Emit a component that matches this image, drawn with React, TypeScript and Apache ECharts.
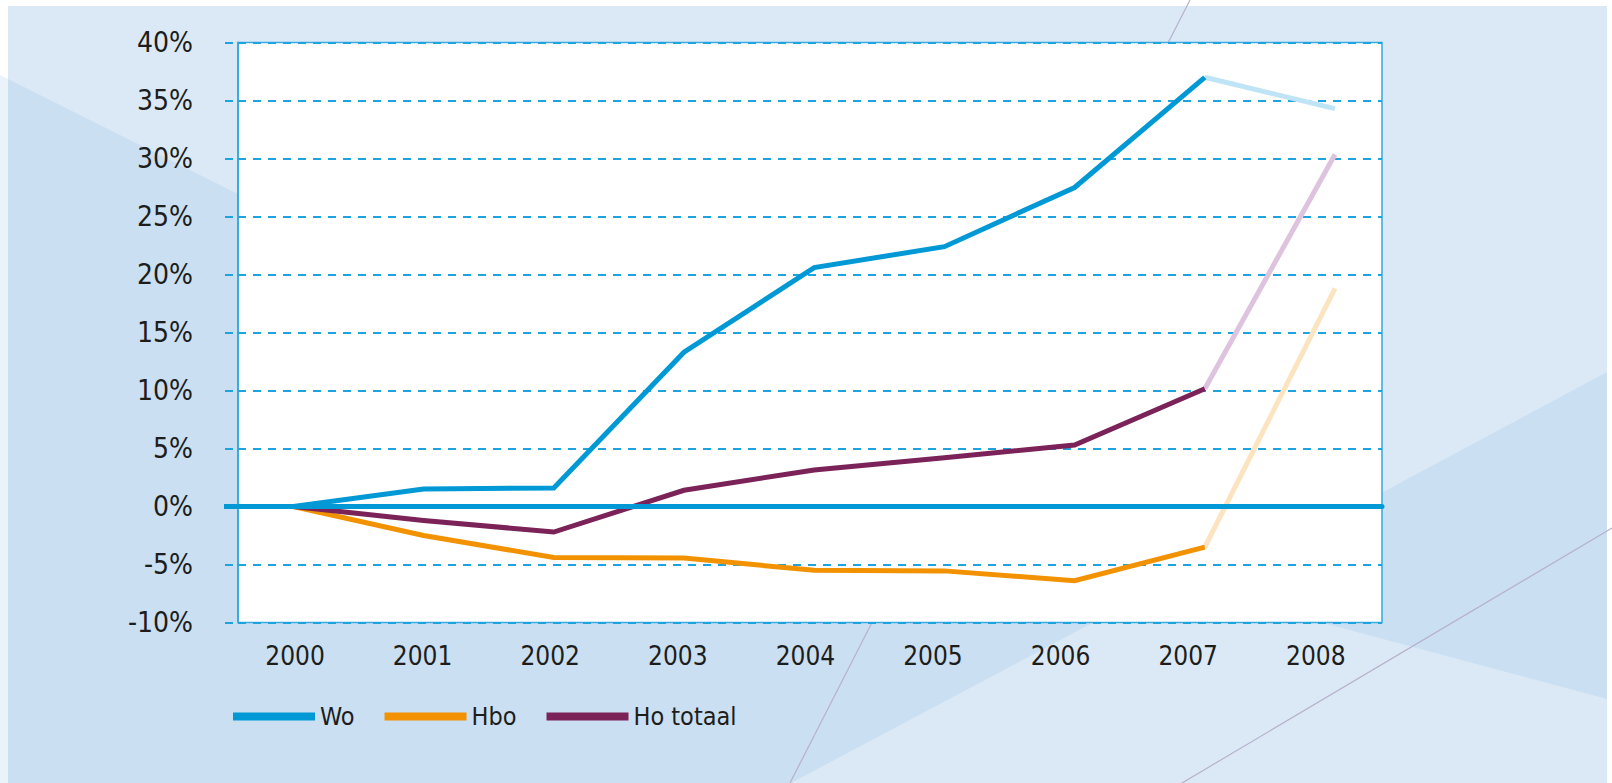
import React, { useEffect, useRef } from "react";
import * as echarts from "echarts";

const years = ["2000", "2001", "2002", "2003", "2004", "2005", "2006", "2007", "2008"];
const wo = [0, 1.5, 1.6, 13.3, 20.6, 22.4, 27.5, 37.0, 34.3];
const hbo = [0, -2.5, -4.4, -4.45, -5.5, -5.55, -6.4, -3.5, 18.8];
const hoTotaal = [0, -1.2, -2.2, 1.4, 3.15, 4.2, 5.3, 10.15, 30.35];
const seriesNames = ["Wo", "Hbo", "Ho totaal"];
const mainColors = ["#0099d5", "#f39200", "#7b2359"];
const fadedColors = ["#bfe4f6", "#fde4c0", "#ddc3de"];
const yMin = -10;
const yMax = 40;
const yStep = 5;

const FONT = '"Liberation Sans Narrow", "DejaVu Sans Condensed", "Liberation Sans", sans-serif';

export default function App() {
  const ref = useRef<HTMLDivElement>(null);
  useEffect(() => {
    if (!ref.current) return;
    const chart = echarts.init(ref.current, null, { renderer: "svg" });
    const all = [wo, hbo, hoTotaal];
    const last = years.length - 1;
    const series: any[] = [];
    all.forEach((vals, k) => {
      series.push({
        name: seriesNames[k],
        type: "line",
        xAxisIndex: 0,
        yAxisIndex: 0,
        data: vals.slice(0, last).map((v, i) => [i, v]),
        showSymbol: false,
        symbol: "none",
        lineStyle: { color: mainColors[k], width: 5, join: "miter" },
        itemStyle: { color: mainColors[k] },
        z: 3,
      });
      series.push({
        name: seriesNames[k] + " " + years[last],
        type: "line",
        xAxisIndex: 0,
        yAxisIndex: 0,
        data: [[last - 1, vals[last - 1]], [last, vals[last]]],
        showSymbol: false,
        symbol: "none",
        lineStyle: { color: fadedColors[k], width: 5 },
        itemStyle: { color: fadedColors[k] },
        z: 2,
      });
    });

    chart.setOption({
      animation: false,
      backgroundColor: "#ffffff",
      graphic: [
        { type: "rect", z: -10, silent: true, shape: { x: 8, y: 6, width: 1599, height: 777 }, style: { fill: "#dbe9f6" } },
        { type: "polygon", z: -9, silent: true, shape: { points: [[0, 75], [8, 79], [8, 783], [0, 783]] }, style: { fill: "#ebf3fa" } },
        { type: "polygon", z: -9, silent: true, shape: { points: [[8, 79], [1094, 622], [791, 783], [8, 783]] }, style: { fill: "#cadff2" } },
        { type: "polygon", z: -9, silent: true, shape: { points: [[1607, 372], [1607, 699], [1200, 590]] }, style: { fill: "#cadff2" } },
        { type: "line", z: -8, silent: true, shape: { x1: 1190, y1: 0, x2: 790, y2: 783 }, style: { stroke: "#b7b1cd", lineWidth: 1.2 } },
        { type: "line", z: -8, silent: true, shape: { x1: 1612, y1: 528, x2: 1182, y2: 783 }, style: { stroke: "#b7b1cd", lineWidth: 1.2 } },
      ],
      grid: {
        left: 238,
        top: 42.5,
        width: 1144,
        height: 580,
        show: true,
        backgroundColor: "#ffffff",
        borderColor: "#35abe1",
        borderWidth: 1.5,
        containLabel: false,
      },
      legend: {
        data: seriesNames,
        left: 233,
        top: 704,
        icon: "rect",
        itemWidth: 82,
        itemHeight: 8,
        itemGap: 30,
        padding: 0,
        textStyle: { fontSize: 25, fontFamily: FONT, color: "#1d1d1b", padding: [0, 0, 0, 0] },
      },
      xAxis: [
        {
          type: "value",
          min: -0.425,
          max: 8.361,
          position: "bottom",
          z: 5,
          axisLine: { show: true, onZero: true, lineStyle: { color: "#0099d5", width: 5 } },
          axisTick: { show: false },
          axisLabel: { show: false },
          splitLine: { show: false },
        },
        {
          type: "value",
          min: -0.4467,
          max: 8.519,
          position: "bottom",
          axisLine: { show: false, onZero: false },
          axisTick: { show: false },
          splitLine: { show: false },
          axisLabel: {
            show: true,
            customValues: years.map((_, i) => i),
            formatter: (v: number) => years[Math.round(v)] ?? "",
            fontSize: 26,
            fontFamily: FONT,
            color: "#1d1d1b",
            margin: 20,
          },
        },
      ],
      yAxis: [
        {
          type: "value",
          min: yMin,
          max: yMax,
          interval: yStep,
          position: "left",
          axisLine: { show: true, onZero: false, lineStyle: { color: "#2ba6df", width: 1.5 } },
          axisTick: { show: true, length: 13, lineStyle: { color: "#1fa3dc", width: 2, type: [8, 5], dashOffset: 8 } },
          axisLabel: {
            formatter: (v: number) => v + "%",
            fontSize: 28,
            fontFamily: FONT,
            color: "#1d1d1b",
            margin: 45,
          },
          splitLine: { show: true, lineStyle: { color: "#1fa3dc", width: 2, type: [8, 7] } },
        },
        {
          type: "value",
          min: yMin,
          max: yMax,
          position: "left",
          axisLine: { show: false, onZero: false },
          axisLabel: { show: false },
          splitLine: { show: false },
          axisTick: { show: true, customValues: [0], length: 14, lineStyle: { color: "#0099d5", width: 5 } },
        },
      ],
      series,
    });
    return () => chart.dispose();
  }, []);
  return (
    <div
      ref={ref}
      style={{ position: "fixed", left: 0, top: 0, width: 1612, height: 783 }}
    />
  );
}
